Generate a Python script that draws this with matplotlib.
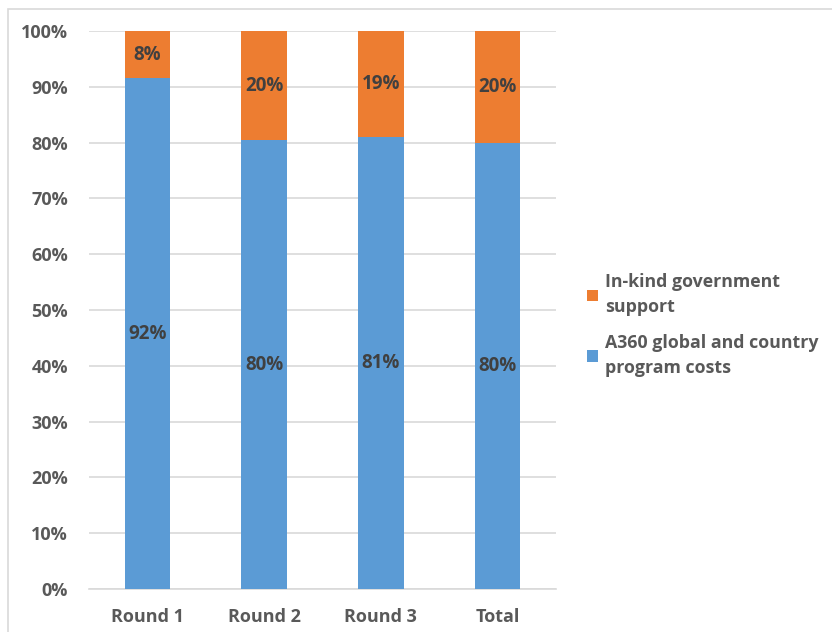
import numpy as np
import matplotlib.pyplot as plt
from matplotlib.patches import Rectangle

plt.rcParams['font.family'] = ['Open Sans', 'DejaVu Sans']
plt.rcParams['font.weight'] = 'bold'

categories = ['Round 1', 'Round 2', 'Round 3', 'Total']
program_costs = [91.5, 80.4, 81.0, 79.9]
inkind_support = [8.5, 19.6, 19.0, 20.1]
program_labels = ['92%', '80%', '81%', '80%']
inkind_labels = ['8%', '20%', '19%', '20%']

blue = '#5B9BD5'
orange = '#ED7D31'
text_gray = '#595959'
label_gray = '#404040'

fig = plt.figure(figsize=(8.32, 6.32), dpi=100)
ax = fig.add_axes([89 / 832, 43 / 632, 467 / 832, 558 / 632])

# outer chart border (cut off on right/bottom)
fig.patches.append(Rectangle((8 / 832, -0.1), 1.2, (632 - 9) / 632 + 0.1,
                             transform=fig.transFigure, fill=False,
                             edgecolor='#D9D9D9', linewidth=1.2))

x = np.arange(len(categories))
w = 0.39
b1 = ax.bar(x, program_costs, w, color=blue, label='A360 global and country\nprogram costs', zorder=3)
b2 = ax.bar(x, inkind_support, w, bottom=program_costs, color=orange,
            label='In-kind government\nsupport', zorder=3)

for i in range(len(categories)):
    ax.text(x[i], program_costs[i] / 2, program_labels[i], ha='center', va='center',
            fontsize=13.5, color=label_gray, fontweight='bold', zorder=4)
    ax.text(x[i], program_costs[i] + inkind_support[i] / 2, inkind_labels[i], ha='center',
            va='center', fontsize=13.5, color=label_gray, fontweight='bold', zorder=4)

ax.set_xlim(-0.5, len(categories) - 0.5)
ax.set_ylim(0, 100)
ax.set_yticks(np.arange(0, 101, 10))
ax.set_yticklabels([f'{v}%' for v in range(0, 101, 10)])
ax.set_xticks(x)
ax.set_xticklabels(categories)
ax.tick_params(axis='both', length=0, labelsize=13, labelcolor=text_gray)
ax.tick_params(axis='y', pad=15)
ax.tick_params(axis='x', pad=14)
ax.grid(axis='y', color='#D9D9D9', linewidth=1.2, zorder=0)
for s in ['top', 'right', 'left']:
    ax.spines[s].set_visible(False)
ax.spines['bottom'].set_color('#D9D9D9')
ax.spines['bottom'].set_linewidth(1.2)

handles, labels = ax.get_legend_handles_labels()
leg = fig.legend(handles[::-1], labels[::-1], loc='center left', bbox_to_anchor=(571 / 832, 1 - 325 / 632),
                 frameon=False, fontsize=12.8, handlelength=0.6, handleheight=0.6,
                 handletextpad=0.4, labelspacing=1.0)
for t in leg.get_texts():
    t.set_color(text_gray)
    t.set_linespacing(1.5)

fig.savefig('out.png', dpi=100)
